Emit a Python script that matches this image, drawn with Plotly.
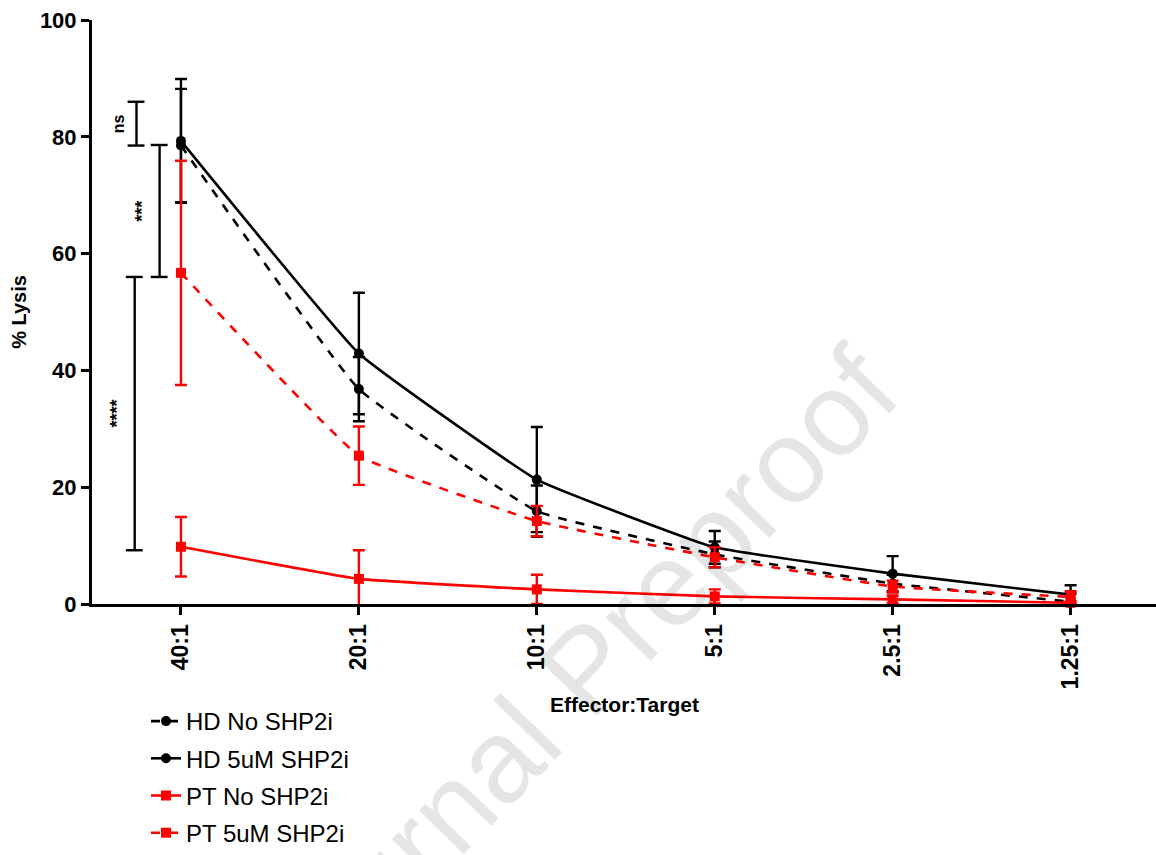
import plotly.graph_objects as go

categories = ["40:1", "20:1", "10:1", "5:1", "2.5:1", "1.25:1"]

hd_no_mean = [78.5, 36.8, 15.9, 8.5, 3.5, 0.4]
hd_no_err = [9.7, 5.5, 4.4, 2.2, 1.5, 1.4]
hd_5um_mean = [79.3, 42.9, 21.3, 9.7, 5.2, 1.6]
hd_5um_err = [10.6, 10.4, 9.0, 2.8, 3.0, 1.6]
pt_no_mean = [9.8, 4.3, 2.5, 1.3, 0.8, 0.2]
pt_no_err = [5.1, 4.9, 2.5, 1.2, 0.6, 0.3]
pt_5um_mean = [56.7, 25.4, 14.2, 8.0, 3.0, 1.2]
pt_5um_err = [19.2, 5.0, 2.6, 1.7, 1.0, 1.0]

# significance brackets: (label, y_low, y_high, x offset from first category, font size)
brackets = [
    ("ns", 78.5, 86.0, -0.25, 16),
    ("***", 56.0, 78.6, -0.12, 18),
    ("****", 9.2, 56.0, -0.26, 18),
]

FONT = "Liberation Sans, Arial, sans-serif"
x = list(range(len(categories)))

series = [
    ("HD No SHP2i", hd_no_mean, hd_no_err, "black", "dash", "circle"),
    ("HD 5uM SHP2i", hd_5um_mean, hd_5um_err, "black", "solid", "circle"),
    ("PT No SHP2i", pt_no_mean, pt_no_err, "#ff0000", "solid", "square"),
    ("PT 5uM SHP2i", pt_5um_mean, pt_5um_err, "#ff0000", "dash", "square"),
]

fig = go.Figure()
for i, (name, m, e, c, d, s) in enumerate(series):
    fig.add_trace(go.Scatter(
        x=x, y=m, name=name, mode="lines+markers",
        line=dict(color=c, width=2.6, dash=d, shape="spline", smoothing=0.3),
        marker=dict(color=c, size=10, symbol=s),
        error_y=dict(type="data", array=e, visible=True, color=c, thickness=2.4, width=6),
        cliponaxis=False, legendgroup=f"g{i}",
    ))

for label, ylo, yhi, xo, fs in brackets:
    xv = x[0] + xo
    fig.add_shape(type="line", x0=xv, x1=xv, y0=ylo, y1=yhi, line=dict(color="black", width=2.4))
    for yy in (ylo, yhi):
        fig.add_shape(type="line", x0=xv - 0.05, x1=xv + 0.045, y0=yy, y1=yy,
                      line=dict(color="black", width=2.4))
    fig.add_annotation(x=xv - 0.1, y=(ylo + yhi) / 2, text=f"<b>{label}</b>", textangle=-90,
                       showarrow=False, font=dict(family=FONT, size=fs, color="black"),
                       xanchor="center", yanchor="middle")

# x-axis title (placed close under the tick labels, as in the reference)
fig.add_annotation(x=0.5, y=(605 - 706) / 585, xref="paper", yref="paper",
                   text="<b>Effector:Target</b>", showarrow=False,
                   xanchor="center", yanchor="middle",
                   font=dict(family=FONT, size=21, color="black"))

# watermark
fig.add_annotation(x=(572 - 92) / 1064, y=(605 - 684) / 585, xref="paper", yref="paper",
                   text="Journal Preproof", showarrow=False, textangle=-46,
                   xanchor="center", yanchor="middle",
                   font=dict(family=FONT, size=118, color="rgba(0,0,0,0.1)"))

fig.update_layout(
    width=1156, height=855,
    margin=dict(l=92, r=0, t=20, b=250),
    plot_bgcolor="white", paper_bgcolor="white",
    showlegend=True,
    legend=dict(x=(146 - 92) / 1064, y=-0.162, xanchor="left", yanchor="top",
                font=dict(family=FONT, size=24, color="black"),
                traceorder="grouped", tracegroupgap=3, bgcolor="rgba(0,0,0,0)",
                itemwidth=30),
    font=dict(family=FONT, color="black"),
)
fig.update_xaxes(
    tickmode="array", tickvals=x, ticktext=[f"<b>{c}</b>" for c in categories], tickangle=-90,
    range=[-0.5, 5.48], showline=True, linecolor="black", linewidth=3,
    ticks="outside", ticklen=8, tickwidth=2.5, tickcolor="black",
    showgrid=False, zeroline=False,
    tickfont=dict(family=FONT, size=23, color="black"),
)
fig.update_yaxes(
    range=[0, 100], tickvals=[0, 20, 40, 60, 80, 100],
    ticktext=["<b>0</b>", "<b>20</b>", "<b>40</b>", "<b>60</b>", "<b>80</b>", "<b>100</b>"],
    showline=True, linecolor="black", linewidth=3,
    ticks="outside", ticklen=8, tickwidth=2.5, tickcolor="black",
    showgrid=False, zeroline=False,
    tickfont=dict(family=FONT, size=22, color="black"),
    title=dict(text="<b>% Lysis</b>", font=dict(family=FONT, size=20), standoff=8),
)

fig.write_html("out.html")
